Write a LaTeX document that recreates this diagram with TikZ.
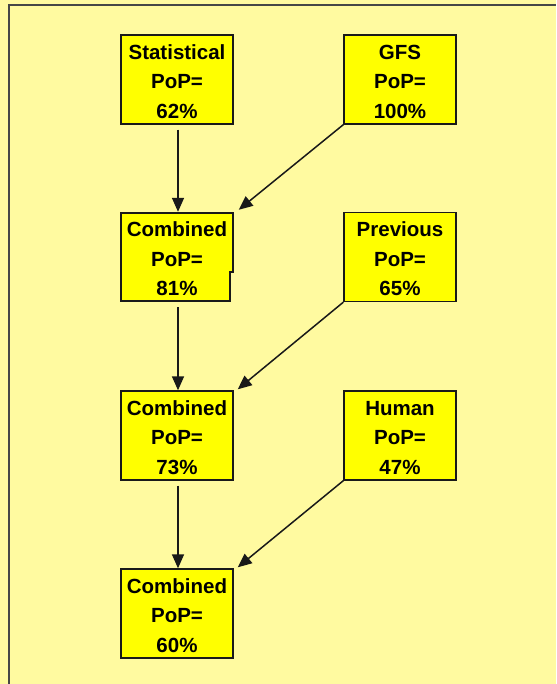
\documentclass[tikz,border=0pt]{standalone}
\usepackage{fontspec}
\setmainfont{Liberation Sans}
\usetikzlibrary{arrows.meta}
\definecolor{bg}{RGB}{255,250,160}
\definecolor{boxfill}{RGB}{255,255,0}
\definecolor{ink}{RGB}{25,25,25}
\definecolor{frame}{RGB}{70,70,70}
\begin{document}
\begin{tikzpicture}[x=1pt,y=-1pt,
  popbox/.style={rectangle, draw=ink, line width=1.4pt, fill=boxfill,
    minimum width=112pt, minimum height=89pt, inner sep=0pt, align=center,
    font=\fontsize{20.5}{29.5}\selectfont\bfseries, text=black, text height=78pt},
  flow/.style={draw=ink, line width=1.5pt, -{Triangle[length=14pt,width=12pt]}}]
  \useasboundingbox (0,0) rectangle (556,684);
  \fill[bg] (0,0) rectangle (556,684);
  \draw[frame, line width=2pt] (9,684) -- (9,5) -- (556,5);

  % notched box behind "Combined 81%"
  \filldraw[draw=ink, line width=1.4pt, fill=boxfill]
    (121,213) -- (233,213) -- (233,272) -- (230,272) -- (230,301) -- (121,301) -- cycle;

  \node[popbox] (stat) at (177,79.5) {Statistical\\PoP=\\62\%};
  \node[popbox] (gfs) at (400,79.5) {GFS\\PoP=\\100\%};
  \node[popbox, draw=none, fill=none] (comb1) at (177,257) {Combined\\PoP=\\81\%};
  \node[popbox] (prev) at (400,257) {Previous\\PoP=\\65\%};
  \node[popbox] (comb2) at (177,435.5) {Combined\\PoP=\\73\%};
  \node[popbox] (human) at (400,435.5) {Human\\PoP=\\47\%};
  \node[popbox] (comb3) at (177,613.5) {Combined\\PoP=\\60\%};

  \draw[flow, shorten <=5pt] ([xshift=1pt]stat.south) -- ([xshift=1pt]comb1.north);
  \draw[flow, shorten <=5pt] ([xshift=1pt]comb1.south) -- ([xshift=1pt]comb2.north);
  \draw[flow, shorten <=5pt] ([xshift=1pt]comb2.south) -- ([xshift=1pt]comb3.north);
  \draw[flow] (gfs.south west) -- ([xshift=5pt,yshift=2pt]comb1.north east);
  \draw[flow] (prev.south west) -- ([xshift=4pt,yshift=1pt]comb2.north east);
  \draw[flow] (human.south west) -- ([xshift=4pt,yshift=1pt]comb3.north east);
\end{tikzpicture}
\end{document}
